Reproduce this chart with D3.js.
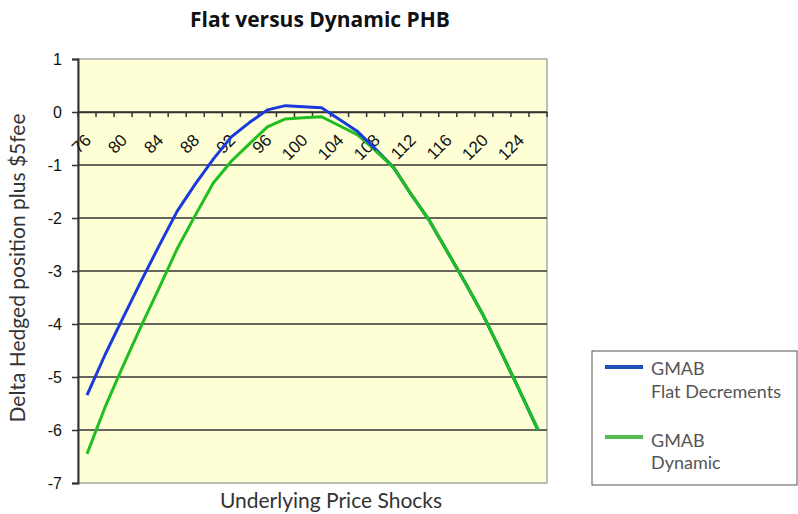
<!DOCTYPE html>
<html><head><meta charset="utf-8">
<script src="https://cdn.jsdelivr.net/npm/d3@7"></script>
<style>body{margin:0;background:#fff}svg{display:block}</style>
</head><body><svg id="c" width="798" height="514"></svg>
<script>
const categories = [76,78,80,82,84,86,88,90,92,94,96,98,100,102,104,106,108,110,112,114,116,118,120,122,124,126];
const flatDecrements = [-5.34,-4.58,-3.88,-3.19,-2.52,-1.87,-1.36,-0.89,-0.47,-0.20,0.04,0.12,0.10,0.08,-0.14,-0.37,-0.70,-1.05,-1.57,-2.06,-2.65,-3.24,-3.86,-4.56,-5.27,-6.00];
const dynamicSeries = [-6.45,-5.57,-4.79,-4.04,-3.32,-2.58,-1.95,-1.34,-0.93,-0.60,-0.28,-0.13,-0.11,-0.09,-0.26,-0.43,-0.73,-1.05,-1.57,-2.06,-2.65,-3.24,-3.86,-4.56,-5.27,-6.00];
const yTicks = [1,0,-1,-2,-3,-4,-5,-6,-7];
const labelCats = [76,80,84,88,92,96,100,104,108,112,116,120,124];
const seriesNames = [["GMAB","Flat Decrements"],["GMAB","Dynamic"]];

const svg = d3.select("#c");
const L = 78, R = 547, T = 59, B = 483;
const x = d3.scaleBand().domain(categories).range([L, R]);
const y = d3.scaleLinear().domain([-7, 1]).range([B, T]);

// plot background
svg.append("rect").attr("x", L).attr("y", T).attr("width", R - L).attr("height", B - T)
  .attr("fill", "#ffffd6").attr("stroke", "#a8a8a8").attr("stroke-width", 1.5);

// gridlines
svg.append("g").selectAll("line").data(yTicks.filter(d => d !== 1 && d !== -7)).join("line")
  .attr("x1", L).attr("x2", R).attr("y1", d => y(d)).attr("y2", d => y(d))
  .attr("stroke", "#333").attr("stroke-width", 1.5);

// y axis
const ya = svg.append("g").attr("transform", `translate(${L},0)`)
  .call(d3.axisLeft(y).tickValues(yTicks).tickSize(6).tickFormat(d => String(d)));
ya.select(".domain").attr("stroke", "#333").attr("stroke-width", 2);
ya.selectAll(".tick line").attr("stroke", "#333").attr("stroke-width", 1.5);
ya.selectAll("text").attr("font-family", "Liberation Sans, Arial, sans-serif").attr("font-size", 16).attr("fill", "#111").attr("dx", -7);

// x (category) axis at y=0
const xa = svg.append("g").attr("transform", `translate(0,${y(0)})`)
  .call(d3.axisBottom(x).tickSize(0).tickFormat(d => labelCats.includes(d) ? d : ""));
xa.select(".domain").attr("stroke", "#333").attr("stroke-width", 1.5);
xa.selectAll("text")
  .attr("font-family", "Liberation Sans, Arial, sans-serif").attr("font-size", 17).attr("fill", "#111")
  .attr("text-anchor", "end").attr("y", 0).attr("dy", "0.35em")
  .attr("transform", "translate(1,25) rotate(-45)");
// boundary tick marks
const bounds = categories.map(c => x(c)).concat([R]);
xa.append("g").selectAll("line").data(bounds).join("line")
  .attr("x1", d => d).attr("x2", d => d).attr("y1", 0).attr("y2", 5)
  .attr("stroke", "#333").attr("stroke-width", 1.5);

// lines
const cx = d => x(d) + x.bandwidth() / 2;
const line = d3.line().x((v, i) => cx(categories[i])).y(v => y(v));
svg.append("path").datum(dynamicSeries).attr("d", line).attr("fill", "none")
  .attr("stroke", "#1fbf1f").attr("stroke-width", 3).attr("stroke-linejoin", "round");
svg.append("path").datum(flatDecrements).attr("d", line).attr("fill", "none")
  .attr("stroke", "#1a3adc").attr("stroke-width", 3).attr("stroke-linejoin", "round");
// green drawn on top where the two series coincide
svg.append("path").datum(dynamicSeries.slice(16)).attr("d", d3.line().x((v, i) => cx(categories[i + 16])).y(v => y(v)))
  .attr("fill", "none").attr("stroke", "#1fbf1f").attr("stroke-width", 3).attr("stroke-linejoin", "round");

// title
svg.append("text").attr("x", 320).attr("y", 27).attr("text-anchor", "middle")
  .attr("font-family", "Open Sans, sans-serif").attr("font-weight", "bold").attr("font-size", 21).attr("fill", "#111")
  .text("Flat versus Dynamic PHB");
// axis titles
svg.append("text").attr("x", 331).attr("y", 508).attr("text-anchor", "middle")
  .attr("font-family", "Lato, sans-serif").attr("font-size", 21).attr("fill", "#333")
  .text("Underlying Price Shocks");
svg.append("text").attr("transform", "translate(25,268) rotate(-90)").attr("text-anchor", "middle")
  .attr("font-family", "Lato, sans-serif").attr("font-size", 21).attr("fill", "#333")
  .text("Delta Hedged position plus $5fee");

// legend
const lg = svg.append("g");
lg.append("rect").attr("x", 592).attr("y", 351).attr("width", 205).attr("height", 134)
  .attr("fill", "#fff").attr("stroke", "#555").attr("stroke-width", 1);
const legColors = ["#2050b8", "#55bb55"];
seriesNames.forEach((nm, i) => {
  const yy = 367 + i * 70;
  lg.append("line").attr("x1", 605).attr("x2", 643).attr("y1", yy).attr("y2", yy)
    .attr("stroke", legColors[i]).attr("stroke-width", 4);
  lg.append("text").attr("x", 651).attr("y", 375 + i * 72).attr("font-family", "Lato, sans-serif")
    .attr("font-size", 18).attr("fill", "#555").text(nm[0]);
  lg.append("text").attr("x", 651).attr("y", 398 + i * 71).attr("font-family", "Lato, sans-serif")
    .attr("font-size", 18).attr("fill", "#555").text(nm[1]);
});
</script></body></html>
